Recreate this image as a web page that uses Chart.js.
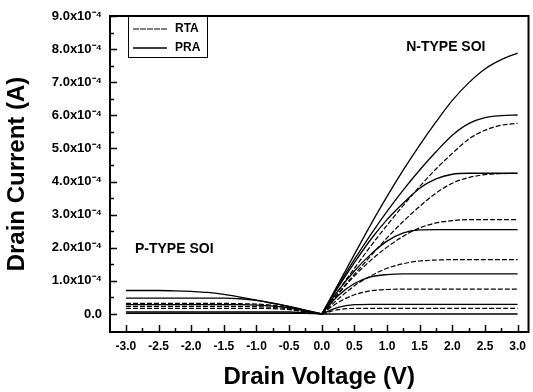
<!DOCTYPE html>
<html>
<head>
<meta charset="utf-8">
<script src="https://cdn.jsdelivr.net/npm/chart.js@4.4.1/dist/chart.umd.min.js"></script>
<style>
  html, body { margin: 0; padding: 0; background: #fff; }
  #ivChart { display: block; }
</style>
</head>
<body>
<canvas id="ivChart" width="533" height="392"></canvas>
<script>
// Drain voltage points (V)
const nVolts = [0, 0.25, 0.5, 0.75, 1, 1.25, 1.5, 1.75, 2, 2.25, 2.5, 2.75, 3];
const pVolts = [-3, -2.75, -2.5, -2.25, -2, -1.75, -1.5, -1.25, -1, -0.75, -0.5, -0.25, 0];

// N-type SOI, drain current in units of 1e-4 A
const nPra1 = [0, 0.9, 1.8, 2.7, 3.55, 4.35, 5.1, 5.8, 6.45, 6.98, 7.4, 7.68, 7.88];
const nPra2 = [0, 0.85, 1.65, 2.4, 3.1, 3.75, 4.35, 4.9, 5.4, 5.75, 5.93, 5.99, 6.01];
const nPra3 = [0, 0.8, 1.55, 2.25, 2.85, 3.35, 3.8, 4.08, 4.22, 4.25, 4.25, 4.25, 4.25];
const nPra4 = [0, 0.7, 1.3, 1.8, 2.2, 2.45, 2.54, 2.55, 2.55, 2.55, 2.55, 2.55, 2.55];
const nPra5 = [0, 0.55, 0.92, 1.12, 1.19, 1.21, 1.21, 1.21, 1.21, 1.21, 1.21, 1.21, 1.21];
const nPra6 = [0, 0.2, 0.28, 0.29, 0.29, 0.29, 0.29, 0.29, 0.29, 0.29, 0.29, 0.29, 0.29];
const nPra7 = [0, 0, 0, 0, 0, 0, 0, 0, 0, 0, 0, 0, 0];

const nRta1 = [0, 0.7, 1.38, 2.05, 2.68, 3.28, 3.85, 4.38, 4.85, 5.28, 5.55, 5.7, 5.76];
const nRta2 = [0, 0.62, 1.2, 1.75, 2.3, 2.8, 3.25, 3.65, 3.95, 4.12, 4.21, 4.24, 4.25];
const nRta3 = [0, 0.6, 1.15, 1.62, 2.02, 2.35, 2.6, 2.75, 2.82, 2.85, 2.85, 2.85, 2.85];
const nRta4 = [0, 0.45, 0.85, 1.15, 1.38, 1.52, 1.6, 1.63, 1.64, 1.64, 1.64, 1.64, 1.64];
const nRta5 = [0, 0.35, 0.58, 0.7, 0.74, 0.75, 0.75, 0.75, 0.75, 0.75, 0.75, 0.75, 0.75];
const nRta6 = [0, 0.13, 0.17, 0.17, 0.17, 0.17, 0.17, 0.17, 0.17, 0.17, 0.17, 0.17, 0.17];

// P-type SOI (magnitude), units of 1e-4 A
const pPra1 = [0.71, 0.71, 0.71, 0.7, 0.68, 0.65, 0.59, 0.51, 0.42, 0.32, 0.22, 0.11, 0];
const pPra2 = [0.48, 0.48, 0.48, 0.48, 0.48, 0.48, 0.48, 0.46, 0.41, 0.33, 0.23, 0.12, 0];
const pPra3 = [0.28, 0.28, 0.28, 0.28, 0.28, 0.28, 0.28, 0.28, 0.27, 0.24, 0.18, 0.09, 0];
const pPra4 = [0.06, 0.06, 0.06, 0.06, 0.06, 0.06, 0.06, 0.06, 0.06, 0.06, 0.06, 0.04, 0];
const pPra5 = [0.02, 0.02, 0.02, 0.02, 0.02, 0.02, 0.02, 0.02, 0.02, 0.02, 0.02, 0.02, 0];

const pRta1 = [0.32, 0.32, 0.32, 0.32, 0.32, 0.32, 0.32, 0.31, 0.3, 0.26, 0.19, 0.1, 0];
const pRta2 = [0.23, 0.23, 0.23, 0.23, 0.23, 0.23, 0.23, 0.23, 0.22, 0.2, 0.15, 0.08, 0];
const pRta3 = [0.17, 0.17, 0.17, 0.17, 0.17, 0.17, 0.17, 0.17, 0.17, 0.16, 0.13, 0.07, 0];

// Tick labels
const xTickVals = [-3, -2.5, -2, -1.5, -1, -0.5, 0, 0.5, 1, 1.5, 2, 2.5, 3];
const yTickVals = [0, 1, 2, 3, 4, 5, 6, 7, 8, 9];

const seriesNames = ["RTA", "PRA"];
const regionLabels = ["N-TYPE SOI", "P-TYPE SOI"];

const SCALE = 1e-4;
const FONT = "'Liberation Sans', Arial, sans-serif";

function toPoints(volts, amps) {
    return volts.map((v, i) => ({ x: v, y: amps[i] * SCALE }));
}

function praLine(volts, amps) {
    return {
        label: "PRA",
        data: toPoints(volts, amps),
        borderColor: "#000",
        borderWidth: 1.3,
        pointRadius: 0,
        cubicInterpolationMode: "monotone",
        fill: false
    };
}

function rtaLine(volts, amps) {
    return {
        label: "RTA",
        data: toPoints(volts, amps),
        borderColor: "#000",
        borderWidth: 1.2,
        borderDash: [5, 2],
        pointRadius: 0,
        cubicInterpolationMode: "monotone",
        fill: false
    };
}

const datasets = [
    praLine(nVolts, nPra1), praLine(nVolts, nPra2), praLine(nVolts, nPra3),
    praLine(nVolts, nPra4), praLine(nVolts, nPra5), praLine(nVolts, nPra6),
    praLine(nVolts, nPra7),
    rtaLine(nVolts, nRta1), rtaLine(nVolts, nRta2), rtaLine(nVolts, nRta3),
    rtaLine(nVolts, nRta4), rtaLine(nVolts, nRta5), rtaLine(nVolts, nRta6),
    praLine(pVolts, pPra1), praLine(pVolts, pPra2), praLine(pVolts, pPra3),
    praLine(pVolts, pPra4), praLine(pVolts, pPra5),
    rtaLine(pVolts, pRta1), rtaLine(pVolts, pRta2), rtaLine(pVolts, pRta3)
];

// frame, inward ticks, legend box and region labels
const decor = {
    id: "decor",
    afterDraw(chart) {
        const { ctx, chartArea: a, scales: { x, y } } = chart;
        ctx.save();
        ctx.strokeStyle = "#000";
        ctx.fillStyle = "#000";

        ctx.lineWidth = 2;
        ctx.strokeRect(a.left, a.top, a.right - a.left, a.bottom - a.top);

        // inward ticks on bottom and left axes
        ctx.lineWidth = 1.5;
        ctx.beginPath();
        for (let i = 0; i <= 24; i++) {
            const v = -3 + i * 0.25;
            const px = Math.round(x.getPixelForValue(v)) + 0.5;
            const len = i % 2 === 0 ? 7 : 4;
            ctx.moveTo(px, a.bottom);
            ctx.lineTo(px, a.bottom - len);
        }
        for (let i = 0; i <= 18; i++) {
            const py = Math.round(y.getPixelForValue(i * 0.5 * SCALE)) + 0.5;
            const len = i % 2 === 0 ? 7 : 4;
            ctx.moveTo(a.left, py);
            ctx.lineTo(a.left + len, py);
        }
        ctx.stroke();

        // legend box
        const lx = a.left + 18, ly = a.top, lw = 79, lh = 41;
        ctx.fillStyle = "#fff";
        ctx.fillRect(lx, ly, lw, lh);
        ctx.lineWidth = 1;
        ctx.strokeRect(lx + 0.5, ly + 0.5, lw, lh);
        ctx.fillStyle = "#000";
        ctx.font = "bold 12px " + FONT;
        ctx.textBaseline = "middle";
        ctx.textAlign = "left";
        seriesNames.forEach((name, i) => {
            const ry = ly + 13 + i * 19;
            ctx.beginPath();
            ctx.lineWidth = i === 0 ? 1 : 1.4;
            ctx.setLineDash(i === 0 ? [6, 1] : []);
            ctx.moveTo(lx + 5, ry);
            ctx.lineTo(lx + 39, ry);
            ctx.stroke();
            ctx.setLineDash([]);
            ctx.fillText(name, lx + 47, ry);
        });

        // region labels
        ctx.font = "bold 14px " + FONT;
        ctx.textAlign = "center";
        ctx.fillText(regionLabels[0], x.getPixelForValue(1.9), y.getPixelForValue(8.06 * SCALE));
        ctx.fillText(regionLabels[1], x.getPixelForValue(-2.26), y.getPixelForValue(1.96 * SCALE));
        ctx.restore();
    }
};

const ctx = document.getElementById("ivChart").getContext("2d");
new Chart(ctx, {
    type: "line",
    data: { datasets: datasets },
    plugins: [decor],
    options: {
        responsive: false,
        animation: false,
        devicePixelRatio: 1,
        layout: { padding: { top: 16, right: 2, left: 0, bottom: 0 } },
        plugins: {
            legend: { display: false },
            tooltip: { enabled: false }
        },
        scales: {
            x: {
                type: "linear",
                min: -3.244,
                max: 3.167,
                grid: { display: false, drawTicks: false },
                border: { display: false },
                afterBuildTicks: (s) => { s.ticks = xTickVals.map(v => ({ value: v })); },
                afterFit: (s) => { s.height = 60; },
                ticks: {
                    includeBounds: false,
                    autoSkip: false,
                    maxRotation: 0,
                    padding: 7,
                    color: "#000",
                    font: { family: FONT, size: 12, weight: "bold" },
                    callback: (v) => Number(v).toFixed(1)
                },
                title: {
                    display: true,
                    text: "Drain Voltage (V)",
                    color: "#000",
                    padding: { top: 3, bottom: 0 },
                    font: { family: FONT, size: 24, weight: "bold" }
                }
            },
            y: {
                type: "linear",
                min: -0.544 * SCALE,
                max: 9 * SCALE,
                grid: { display: false, drawTicks: false },
                border: { display: false },
                afterBuildTicks: (s) => { s.ticks = yTickVals.map(v => ({ value: v * SCALE })); },
                afterFit: (s) => { s.width = 110; },
                ticks: {
                    includeBounds: false,
                    autoSkip: false,
                    padding: 8,
                    color: "#000",
                    font: { family: FONT, size: 13, weight: "bold" },
                    callback: (v) => {
                        const n = Math.round(v / SCALE * 10) / 10;
                        return n === 0 ? "0.0" : n.toFixed(1) + "x10\u207B\u2074";
                    }
                },
                title: {
                    display: true,
                    text: "Drain Current (A)",
                    color: "#000",
                    padding: { top: 3, bottom: 0 },
                    font: { family: FONT, size: 24, weight: "bold" }
                }
            }
        }
    }
});
</script>
</body>
</html>
